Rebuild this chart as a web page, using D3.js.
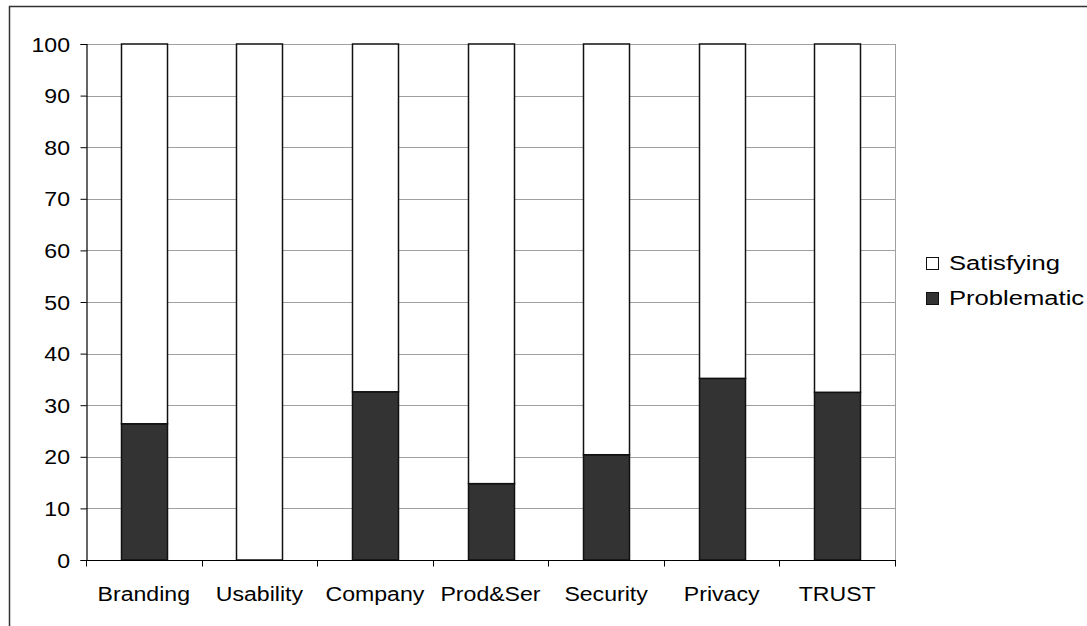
<!DOCTYPE html>
<html>
<head>
<meta charset="utf-8">
<script src="https://cdn.jsdelivr.net/npm/d3@7"></script>
<style>
  html, body { margin: 0; padding: 0; background: #fff; }
  svg { display: block; font-family: "Liberation Sans", Arial, sans-serif; }
</style>
</head>
<body>
<svg id="chart" width="1087" height="626"></svg>
<script>
// Share of assessments per dimension (percent)
const categories = ["Branding", "Usability", "Company", "Prod&Ser", "Security", "Privacy", "TRUST"];
const problematic = [26.4, 0, 32.6, 14.8, 20.4, 35.2, 32.5];
const satisfying = problematic.map(v => 100 - v);
const yTicks = [0, 10, 20, 30, 40, 50, 60, 70, 80, 90, 100];
const seriesNames = ["Satisfying", "Problematic"];
const seriesColors = { Satisfying: "#ffffff", Problematic: "#333333" };

const svg = d3.select("#chart");
const W = 1087, H = 626;
const plot = { left: 86, right: 895, top: 44, bottom: 560 };
const FONT = 21;

// Outer frame (runs past the visible page on the right and bottom)
svg.append("rect")
  .attr("x", 9.5).attr("y", 6.5)
  .attr("width", W + 40).attr("height", H + 40)
  .attr("fill", "none").attr("stroke", "#333").attr("stroke-width", 1.5);

const xBand = d3.scaleBand().domain(categories).range([plot.left, plot.right]);
const y = d3.scaleLinear().domain([0, 100]).range([plot.bottom, plot.top]);

// Gridlines
svg.append("g").selectAll("line").data(yTicks.filter(t => t > 0)).join("line")
  .attr("x1", plot.left).attr("x2", plot.right)
  .attr("y1", d => Math.round(y(d)) + 0.5).attr("y2", d => Math.round(y(d)) + 0.5)
  .attr("stroke", "#a0a0a0").attr("stroke-width", 1);

// Right border of the plot area
svg.append("line")
  .attr("x1", plot.right + 0.5).attr("x2", plot.right + 0.5)
  .attr("y1", plot.top).attr("y2", plot.bottom)
  .attr("stroke", "#a0a0a0").attr("stroke-width", 1);

// Stacked bars
const rows = categories.map((c, i) => ({ cat: c, Problematic: problematic[i], Satisfying: satisfying[i] }));
const stack = d3.stack().keys(["Problematic", "Satisfying"])(rows);
const barW = 46;
svg.append("g").selectAll("g").data(stack).join("g")
  .attr("fill", d => seriesColors[d.key])
  .selectAll("rect").data(d => d).join("rect")
  .attr("x", d => Math.round(xBand(d.data.cat) + xBand.bandwidth() / 2 - barW / 2) + 0.5)
  .attr("width", barW)
  .attr("y", d => y(d[1]))
  .attr("height", d => y(d[0]) - y(d[1]))
  .attr("stroke", "#111").attr("stroke-width", 1.5);

// Y axis
const yAxis = d3.axisLeft(y).tickValues(yTicks).tickSize(6).tickPadding(9);
const gy = svg.append("g").attr("transform", `translate(${plot.left + 0.5},0)`).call(yAxis);
gy.select(".domain").attr("stroke", "#000").attr("stroke-width", 1.2);
gy.selectAll(".tick line").attr("stroke", "#000");
gy.selectAll(".tick text").remove();
svg.append("g").selectAll("text").data(yTicks).join("text")
  .attr("transform", d => `translate(70,${y(d) + 7.5}) scale(1.1,1)`)
  .attr("text-anchor", "end")
  .attr("font-size", FONT).attr("fill", "#000")
  .text(d => d);

// X axis with ticks at category boundaries
const gx = svg.append("g").attr("transform", `translate(0,${plot.bottom + 0.5})`);
gx.append("line").attr("x1", plot.left).attr("x2", plot.right + 1)
  .attr("stroke", "#000").attr("stroke-width", 1.2);
const bounds = categories.map(c => xBand(c)).concat([plot.right]);
gx.selectAll("line.tk").data(bounds).join("line").attr("class", "tk")
  .attr("x1", d => Math.round(d) + 0.5).attr("x2", d => Math.round(d) + 0.5)
  .attr("y1", 0).attr("y2", 6).attr("stroke", "#000");
gx.selectAll("text").data(categories).join("text")
  .attr("transform", d => `translate(${xBand(d) + xBand.bandwidth() / 2},40.5) scale(1.1,1)`)
  .attr("text-anchor", "middle")
  .attr("font-size", FONT).attr("fill", "#000")
  .text(d => d);

// Legend
const leg = svg.append("g").attr("transform", "translate(926,257)");
seriesNames.forEach((name, i) => {
  const g = leg.append("g").attr("transform", `translate(0,${i * 35})`);
  g.append("rect").attr("x", 0.5).attr("y", 0.5).attr("width", 12).attr("height", 12)
    .attr("fill", seriesColors[name]).attr("stroke", "#111").attr("stroke-width", 1);
  g.append("text").attr("transform", "translate(23,12.5) scale(1.22,1)")
    .attr("font-size", FONT).attr("fill", "#000").text(name);
});
</script>
</body>
</html>
